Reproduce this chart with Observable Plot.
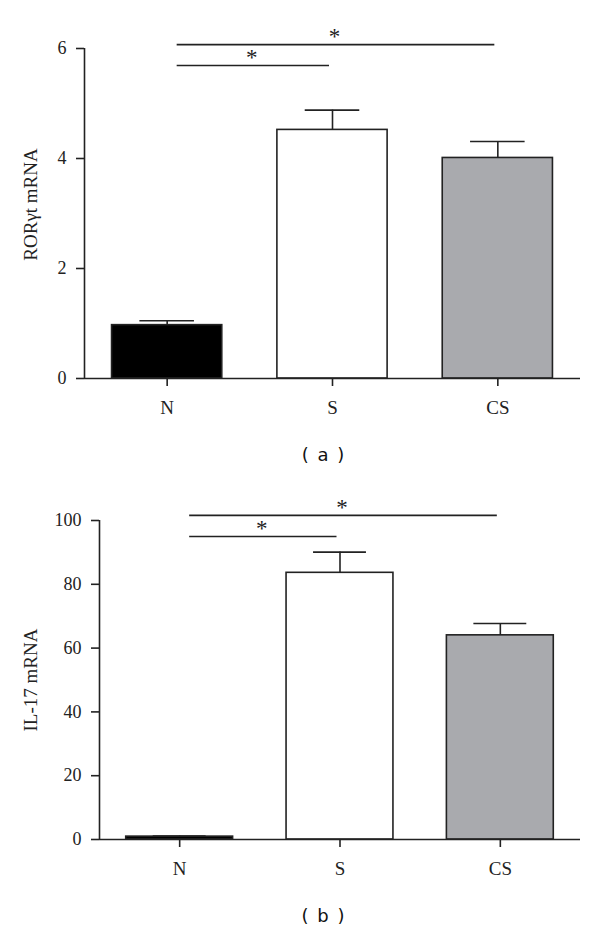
<!DOCTYPE html>
<html>
<head>
<meta charset="utf-8">
<script src="https://cdn.jsdelivr.net/npm/d3@7"></script>
<script src="https://cdn.jsdelivr.net/npm/@observablehq/plot@0.6"></script>
<style>
  html, body { margin: 0; padding: 0; background: #fff; }
  #page { position: relative; width: 600px; height: 931px; overflow: hidden; background: #fff; }
  .panel { position: absolute; left: 0; }
  .cap { position: absolute; left: 263px; width: 120px; text-align: center;
         font-family: "DejaVu Sans", sans-serif; font-size: 18px; line-height: 22px; color: #111; word-spacing: 3px; }
</style>
</head>
<body>
<div id="page">
  <div id="pa" class="panel" style="top:0px"></div>
  <div class="cap" style="top:444px">( a )</div>
  <div id="pb" class="panel" style="top:470px"></div>
  <div class="cap" style="top:905px">( b )</div>
</div>
<script>
// ---- data ----
const groups = ["N", "S", "CS"];
const fills = ["#000000", "#ffffff", "#a9aaae"];

const rorMean = [0.97, 4.52, 4.01];
const rorErr = [0.08, 0.36, 0.30];
const rorTicks = [0, 2, 4, 6];

const il17Mean = [0.9, 83.6, 64.0];
const il17Err = [0.2, 6.5, 3.7];
const il17Ticks = [0, 20, 40, 60, 80, 100];

const sigFrom = ["N", "N"];
const sigTo = ["CS", "S"];
const sigLabel = ["*", "*"];
const rorSigY = [6.07, 5.69];
const il17SigY = [101.6, 95.0];

const ink = "#222";
const serif = "Liberation Serif, DejaVu Serif, serif";

function panel({means, errs, sigY, ticks, label, marginLeft, marginTop, marginBottom, height, labelDx, labelDy}) {
  const rows = groups.map((g, i) => ({g, i, mean: means[i], err: errs[i], fill: fills[i]}));
  const sigs = sigFrom.map((f, k) => ({a: groups.indexOf(f), b: groups.indexOf(sigTo[k]), y: sigY[k], t: sigLabel[k]}));
  const yMax = ticks[ticks.length - 1];
  return Plot.plot({
    width: 600,
    height,
    marginLeft,
    marginRight: 20,
    marginTop,
    marginBottom,
    style: {fontFamily: serif, fontSize: "17px", color: ink, background: "#fff", overflow: "visible"},
    x: {domain: [-0.5, groups.length - 0.5]},
    y: {domain: [0, yMax]},
    color: {type: "identity"},
    marks: [
      Plot.rectY(rows, {x1: d => d.i - 1/3, x2: d => d.i + 1/3, y1: 0, y2: "mean", fill: "fill", stroke: ink, strokeWidth: 1.6}),
      Plot.ruleX(rows, {x: "i", y1: "mean", y2: d => d.mean + d.err, stroke: ink, strokeWidth: 1.6}),
      Plot.ruleY(rows, {y: d => d.mean + d.err, x1: d => d.i - 0.165, x2: d => d.i + 0.165, stroke: ink, strokeWidth: 1.6}),
      Plot.ruleY(sigs, {y: "y", x1: "a", x2: "b", insetLeft: 10, insetRight: 3, stroke: ink, strokeWidth: 1.6}),
      Plot.text(sigs, {x: d => (d.a + d.b) / 2, y: "y", text: "t", dx: 2, dy: -8, fontSize: 23, fontFamily: serif, fill: ink}),
      Plot.ruleY([0], {stroke: ink, strokeWidth: 1.6}),
      Plot.ruleX([-0.5], {stroke: ink, strokeWidth: 1.6}),
      Plot.axisX({ticks: groups.map((g, i) => i), tickFormat: i => groups[i], tickSize: 8, tickPadding: 14, fontSize: 19, fontFamily: serif, fontVariant: "normal", label: null, strokeWidth: 1.6}),
      Plot.axisY({ticks, tickFormat: d => String(d), tickSize: 8, tickPadding: 10, label: null, fontSize: 18, fontFamily: serif, fontVariant: "normal", strokeWidth: 1.6}),
      Plot.text([label], {frameAnchor: "left", textAnchor: "middle", lineAnchor: "middle", rotate: -90, dx: labelDx, dy: labelDy, fontSize: 19, fontFamily: serif, fill: ink})
    ]
  });
}

document.getElementById("pa").append(panel({
  means: rorMean, errs: rorErr, sigY: rorSigY, ticks: rorTicks, label: "RORγt mRNA",
  marginLeft: 84, marginTop: 48, marginBottom: 52, height: 430, labelDx: -54, labelDy: -9
}));
document.getElementById("pb").append(panel({
  means: il17Mean, errs: il17Err, sigY: il17SigY, ticks: il17Ticks, label: "IL-17 mRNA",
  marginLeft: 99, marginTop: 50, marginBottom: 51, height: 420, labelDx: -69, labelDy: 0
}));
</script>
</body>
</html>
